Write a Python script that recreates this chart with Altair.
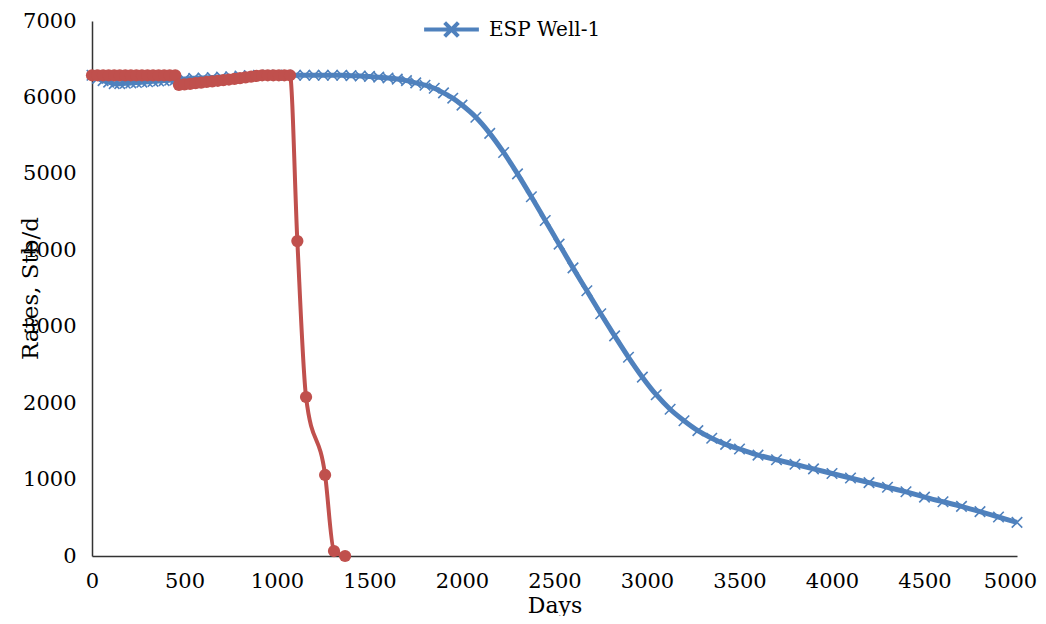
import altair as alt
import pandas as pd

# ESP Well-1 (blue series)
blue_days = [0, 30, 60, 90, 120, 150, 180, 210, 240, 270, 300, 330, 360, 390, 420, 450,
             500, 550, 600, 650, 700, 750, 800, 850, 900, 950, 1000, 1050, 1100, 1150,
             1200, 1250, 1300, 1350, 1400, 1450, 1500, 1550, 1600, 1650, 1700, 1750,
             1800, 1850, 1900, 1950, 2000, 2075, 2150, 2225, 2300, 2375, 2450, 2525,
             2600, 2675, 2750, 2825, 2900, 2975, 3050, 3125, 3200, 3275, 3350, 3425,
             3500, 3600, 3700, 3800, 3900, 4000, 4100, 4200, 4300, 4400, 4500, 4600,
             4700, 4800, 4900, 5000]
blue_rates = [6290, 6250, 6220, 6200, 6180, 6180, 6185, 6190, 6195, 6200, 6205, 6210,
              6215, 6220, 6225, 6230, 6240, 6250, 6255, 6260, 6265, 6270, 6280, 6285,
              6290, 6290, 6290, 6290, 6290, 6290, 6290, 6290, 6290, 6290, 6285, 6280,
              6275, 6265, 6255, 6240, 6220, 6190, 6160, 6120, 6060, 5990, 5900, 5740,
              5530, 5280, 5000, 4700, 4390, 4080, 3770, 3470, 3170, 2880, 2600, 2340,
              2110, 1920, 1770, 1640, 1540, 1460, 1400, 1320, 1260, 1200, 1140, 1080,
              1020, 960, 900, 840, 770, 710, 650, 580, 510, 440]

# Second well (red series, not in legend)
red_days = [0, 30, 60, 90, 120, 150, 180, 210, 240, 270, 300, 330, 360, 390, 420, 450,
            470, 500, 530, 560, 590, 620, 650, 680, 710, 740, 770, 800, 830, 860, 890,
            920, 950, 980, 1010, 1040, 1070, 1110, 1157, 1260, 1308, 1368]
red_rates = [6290, 6290, 6290, 6290, 6290, 6290, 6290, 6290, 6290, 6290, 6290, 6290,
             6290, 6290, 6290, 6290, 6165, 6170, 6178, 6186, 6194, 6202, 6210, 6218,
             6226, 6234, 6242, 6252, 6262, 6272, 6282, 6290, 6290, 6290, 6290, 6290,
             6290, 4120, 2080, 1060, 65, 0]

blue = pd.DataFrame({"Days": blue_days, "Rate": blue_rates, "Series": "ESP Well-1"})
red = pd.DataFrame({"Days": red_days, "Rate": red_rates})

FONT = "DejaVu Serif"
BLUE = "#4F81BD"
RED = "#C0504D"

x_enc = alt.X("Days:Q", scale=alt.Scale(domain=[0, 5000], nice=False, zero=False),
              axis=alt.Axis(title="Days", values=list(range(0, 5001, 500)), format="d",
                            grid=False, ticks=False, labelPadding=14, labelFontSize=21,
                            labelFont=FONT, labelColor="black", titleFont=FONT,
                            titleFontSize=22, titleFontWeight="normal", titleColor="black",
                            titleY=49, titleBaseline="middle",
                            labelOffset={"condition": {"test": "datum.value == 5000",
                                                       "value": -7}, "value": 0},
                            domainColor="#333333", domainWidth=1.5,
                            labelFlush=False))
y_enc = alt.Y("Rate:Q", scale=alt.Scale(domain=[0, 7000], nice=False),
              axis=alt.Axis(title="Rates, Stb/d", values=list(range(0, 7001, 1000)),
                            format="d", grid=False, ticks=False, labelPadding=16,
                            labelFontSize=21, labelFont=FONT, labelColor="black",
                            titleFont=FONT, titleFontSize=23, titleFontWeight="normal",
                            titleColor="black", titleX=-62, titleY=267,
                            titleAlign="center", titleBaseline="middle", titleAngle=270,
                            domainColor="#333333", domainWidth=1.5))

legend_path = "M-1,0L1,0M-0.25,-0.25L0.25,0.25M-0.25,0.25L0.25,-0.25"

blue_line = alt.Chart(blue).mark_line(strokeWidth=5, interpolate="monotone").encode(
    x=x_enc, y=y_enc,
    color=alt.Color("Series:N", scale=alt.Scale(domain=["ESP Well-1"], range=[BLUE]),
                    legend=alt.Legend(title=None, orient="none", legendX=330, legendY=-21,
                                      symbolType=legend_path, symbolSize=3000,
                                      symbolStrokeWidth=4, symbolStrokeColor=BLUE,
                                      labelFont=FONT, labelFontSize=20, labelColor="black",
                                      labelOffset=8))
)
blue_pts = alt.Chart(blue).mark_point(shape="M-1,-1L1,1M-1,1L1,-1", size=110, filled=False,
                                      strokeWidth=1.6, color=BLUE, opacity=1).encode(
    x="Days:Q", y="Rate:Q")

red_line = alt.Chart(red).mark_line(strokeWidth=4, interpolate="monotone", color=RED).encode(
    x="Days:Q", y="Rate:Q")
red_pts = alt.Chart(red).mark_circle(size=150, color=RED, opacity=1).encode(
    x="Days:Q", y="Rate:Q")

chart = alt.layer(blue_line, blue_pts, red_line, red_pts).properties(
    width=925, height=535,
    autosize=alt.AutoSizeParams(type="none"),
    padding={"left": 84, "top": 13, "right": 21, "bottom": 60},
    background="white",
).configure_view(stroke=None)

chart.save("out.html", embed_options={"renderer": "svg", "actions": False})
